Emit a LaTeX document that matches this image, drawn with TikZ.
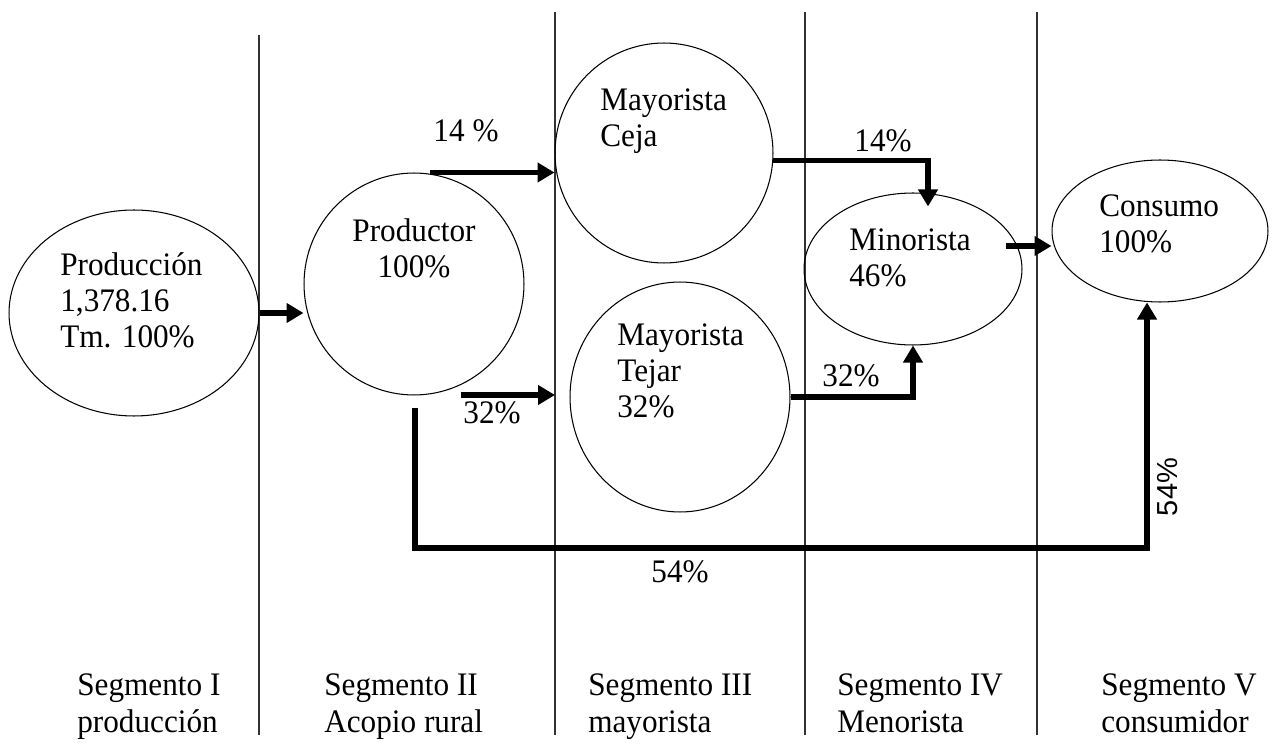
\documentclass[tikz,border=0pt]{standalone}
\usepackage{fontspec}
\setmainfont[FakeStretch=0.95]{Liberation Serif}
\setsansfont{Liberation Sans}
\usepackage{tikz}
\usetikzlibrary{arrows.meta, shapes.geometric, positioning}

\begin{document}
\begin{tikzpicture}[
    x=0.02cm,
    y=-0.02cm,
    font=\fontsize{18.7}{20.5}\selectfont,
    segline/.style={line width=0.6pt, black!80},
    stage/.style={draw, ellipse, inner sep=0pt, line width=0.6pt},
    flow/.style={line width=3.1pt, -{Triangle[length=0.34cm, width=0.38cm]}},
    txt/.style={inner sep=0pt, align=left, anchor=base west},
    pct/.style={inner sep=0pt, anchor=base}
]
\useasboundingbox (0,0) rectangle (1272,743);

% Segment boundaries
\foreach \x/\top in {259/35, 555/12, 805/12, 1037/12}
    \draw[segline] (\x,\top) -- (\x,735);
\coordinate (seg2) at (555,0);

% Stages of the chain
\node[stage, minimum width=5.0cm, minimum height=4.12cm] (prod) at (134,313) {};
\node[stage, minimum width=4.4cm, minimum height=4.44cm] (productor) at (414,284) {};
\node[stage, minimum width=4.36cm, minimum height=4.4cm] (ceja) at (664,153) {};
\node[stage, minimum width=4.4cm, minimum height=4.6cm] (tejar) at (680,397) {};
\node[stage, minimum width=4.36cm, minimum height=3.04cm] (minorista) at (913,269) {};
\node[stage, minimum width=4.32cm, minimum height=2.84cm] (consumo) at (1160,231) {};

% Stage texts (base = last line)
\node[txt] (prodtxt) at (60,348) {Producción\\1,378.16\\Tm. 100\%};
\node[txt, align=center, anchor=base] (productortxt) at (414,278) {Productor\\100\%};
\node[txt] (cejatxt) at (600,147) {Mayorista\\Ceja};
\node[txt] (tejartxt) at (617,418) {Mayorista\\Tejar\\32\%};
\node[txt] (minoristatxt) at (849,287) {Minorista\\46\%};
\node[txt] (consumotxt) at (1099,253) {Consumo\\100\%};

% Flows
\coordinate (p32) at (461,395);
\coordinate (m46) at (1006,246);
\coordinate (p54) at (415,408);

\draw[flow] (prod.east) -- (prod.east -| productor.west);
\draw[flow] ([xshift=0.32cm]productor.north) -- (ceja.west |- productor.north);
\draw[flow] (p32) -- (seg2 |- p32);
\draw[flow] (ceja.-4) -| ([xshift=0.3cm, yshift=-0.28cm]minorista.north);
\draw[flow] (tejar.east) -| (minorista.south);
\draw[flow] (m46) -- (m46 -| consumo.west);
\draw[flow] (p54) -- ++(0,140) -| ([xshift=-0.26cm]consumo.south);

% Flow labels
\node[pct] (l14a) at (466,142) {14 \%};
\node[pct] (l32a) at (492,423) {32\%};
\node[pct] (l14b) at (883,152) {14\%};
\node[pct] (l32b) at (851,386) {32\%};
\node[pct] (l54a) at (680,582) {54\%};
\node[font=\sffamily\fontsize{16.5}{19}\selectfont, rotate=90, inner sep=0pt] (l54b) at (1168,487) {54\%};

% Segment names
\node[txt] (seg1txt) at (77,732) {Segmento I\\producción};
\node[txt] (seg2txt) at (324,732) {Segmento II\\Acopio rural};
\node[txt] (seg3txt) at (588,732) {Segmento III\\mayorista};
\node[txt] (seg4txt) at (837,732) {Segmento IV\\Menorista};
\node[txt] (seg5txt) at (1101,732) {Segmento V\\consumidor};

\end{tikzpicture}
\end{document}
